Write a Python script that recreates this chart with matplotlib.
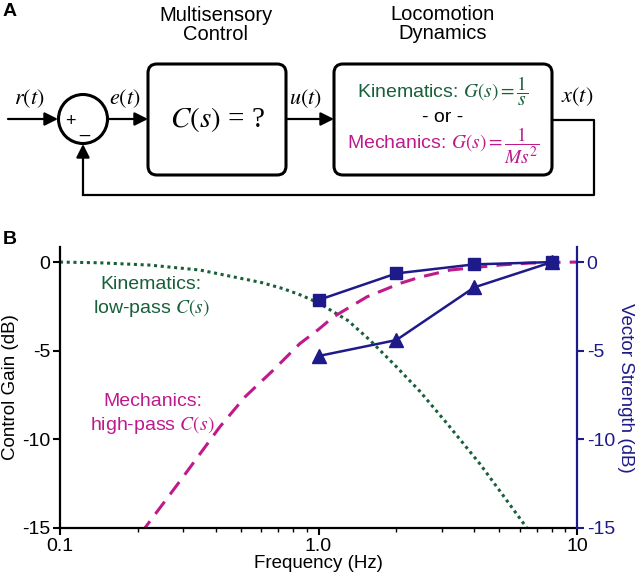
import numpy as np
import matplotlib
matplotlib.use('Agg')
import matplotlib.pyplot as plt
from matplotlib.patches import FancyBboxPatch, Circle

plt.rcParams['font.family'] = ['Liberation Sans', 'DejaVu Sans']
plt.rcParams['mathtext.fontset'] = 'stix'

GREEN = '#17603a'
MAGENTA = '#bf1a8c'
NAVY = '#1e1a8a'

## Data
# kinematics: low-pass control gain (dB)
kin_freq = [0.1, 0.142, 0.222, 0.348, 0.467, 0.6, 0.73, 0.85, 1.0, 1.3, 1.58, 2.0, 2.47, 3.14, 4.22, 5.2, 6.4, 6.6]
kin_gain = [0.0, -0.04, -0.17, -0.45, -0.83, -1.15, -1.5, -1.85, -2.3, -3.3, -4.4, -5.9, -7.3, -9.1, -11.4, -13.2, -15.0, -15.3]
# mechanics: high-pass control gain (dB)
mech_freq = [0.205, 0.213, 0.3, 0.415, 0.52, 0.668, 0.847, 1.0, 1.14, 1.54, 2.07, 2.47, 3.23, 5.0, 6.5, 8.0, 10.0]
mech_gain = [-15.3, -15.0, -12.1, -9.3, -7.6, -6.1, -4.6, -3.8, -3.1, -1.96, -1.2, -0.85, -0.45, -0.17, -0.06, -0.02, 0.0]
# measured vector strength (dB)
vs_freq = [1.0, 2.0, 4.0, 8.0]
vs_square = [-2.14, -0.64, -0.13, 0.0]
vs_triangle = [-5.3, -4.4, -1.43, 0.0]

ticks_y = [0, -5, -10, -15]
ticks_x = [0.1, 1.0, 10]
tick_x_labels = ['0.1', '1.0', '10']

fig = plt.figure(figsize=(6.4, 5.78), dpi=100)

## Panel A: block diagram, drawn in pixel units
axa = fig.add_axes([0, 1 - 210 / 578, 1, 210 / 578])
axa.set_xlim(0, 640)
axa.set_ylim(210, 0)
axa.axis('off')

def arrow(x0, y0, x1, y1):
    axa.annotate('', xy=(x1, y1), xytext=(x0, y0),
                 arrowprops=dict(arrowstyle='-|>', lw=1.6, color='black',
                                 mutation_scale=20, shrinkA=0, shrinkB=0))

axa.text(3, 12, 'A', fontsize=14, fontweight='bold', va='center', ha='left')
axa.text(216, 25, 'Multisensory\nControl', fontsize=14.5, ha='center', va='center', linespacing=1.05)
axa.text(443, 24, 'Locomotion\nDynamics', fontsize=14.5, ha='center', va='center', linespacing=1.05)

axa.text(29, 99, r'$r(t)$', fontsize=16, ha='center', va='center')
axa.text(125, 99, r'$e(t)$', fontsize=16, ha='center', va='center')
axa.text(305, 99, r'$u(t)$', fontsize=16, ha='center', va='center')
axa.text(577, 97, r'$x(t)$', fontsize=16, ha='center', va='center')

arrow(8, 119, 58, 119)
axa.add_patch(Circle((83, 119), 24.5, fill=False, lw=2.2, color='black'))
axa.text(70, 121, '+', fontsize=13, ha='center', va='center')
axa.text(84, 127, '_', fontsize=13, ha='center', va='center')
arrow(107, 119, 148, 119)

axa.add_patch(FancyBboxPatch((148, 64), 138, 111, boxstyle='round,pad=0,rounding_size=9',
                             fill=False, lw=2.2, ec='black'))
axa.text(217, 119, r'$C(s)$ = ?', fontsize=21, ha='center', va='center', family='Liberation Serif')
arrow(286, 119, 334, 119)

axa.add_patch(FancyBboxPatch((334, 64), 218, 111, boxstyle='round,pad=0,rounding_size=9',
                             fill=False, lw=2.2, ec='black'))
axa.text(443, 91, r'Kinematics: $G(s) = \dfrac{1}{s}$', fontsize=14, color=GREEN, ha='center', va='center')
axa.text(443, 118, '- or -', fontsize=14, ha='center', va='center')
axa.text(443, 146, r'Mechanics: $G(s) = \dfrac{1}{Ms^2}$', fontsize=14, color=MAGENTA, ha='center', va='center')

axa.plot([552, 594, 594, 83], [120, 120, 195, 195], color='black', lw=1.6)
arrow(83, 195, 83, 144)

## Panel B: frequency responses
ax = fig.add_axes([60 / 640, 50 / 578, 517 / 640, 281 / 578])
ax.plot(kin_freq, kin_gain, color=GREEN, lw=2.2, linestyle=(0, (1, 1.2)))
ax.plot(mech_freq, mech_gain, color=MAGENTA, lw=2.2, linestyle=(0, (5, 3)))
ax.set_xscale('log')
ax.set_xlim(0.1, 10)
ax.set_ylim(-15, 0.85)
ax.set_yticks(ticks_y)
ax.set_yticklabels([str(t) for t in ticks_y])
ax.set_xticks(ticks_x)
ax.set_xticklabels(tick_x_labels)
ax.tick_params(labelsize=14, width=1.5, length=5, pad=2)
ax.tick_params(which='minor', width=1, length=3)
ax.spines['top'].set_visible(False)
ax.spines['right'].set_visible(False)
for s in ['left', 'bottom']:
    ax.spines[s].set_linewidth(1.6)
ax.set_xlabel('Frequency (Hz)', fontsize=13.5, labelpad=0)
ax.set_ylabel('Control Gain (dB)', fontsize=13.5, labelpad=2)

ax.text(0.225, -1.25, 'Kinematics:', color=GREEN, fontsize=14, ha='center', va='center')
ax.text(0.225, -2.6, r'low-pass $C(s)$', color=GREEN, fontsize=14, ha='center', va='center')
ax.text(0.228, -7.85, 'Mechanics:', color=MAGENTA, fontsize=14, ha='center', va='center')
ax.text(0.228, -9.2, r'high-pass $C(s)$', color=MAGENTA, fontsize=14, ha='center', va='center')

ax2 = ax.twinx()
ax2.plot(vs_freq, vs_square, color=NAVY, lw=1.8, marker='s', markersize=8)
ax2.plot(vs_freq, vs_triangle, color=NAVY, lw=1.8, marker='^', markersize=10)
ax2.set_ylim(-15, 0.85)
ax2.set_yticks(ticks_y)
ax2.set_yticklabels([str(t) for t in ticks_y])
ax2.tick_params(labelsize=14, width=1.5, length=5, pad=2, colors=NAVY)
for s in ['top', 'left', 'bottom']:
    ax2.spines[s].set_visible(False)
ax2.spines['right'].set_color(NAVY)
ax2.spines['right'].set_linewidth(1.6)
ax2.set_ylabel('Vector Strength (dB)', fontsize=13.5, color=NAVY, rotation=-90, labelpad=14)

fig.text(3 / 640, 1 - 240 / 578, 'B', fontsize=14, fontweight='bold', va='center')

fig.savefig('out.png', dpi=100)
